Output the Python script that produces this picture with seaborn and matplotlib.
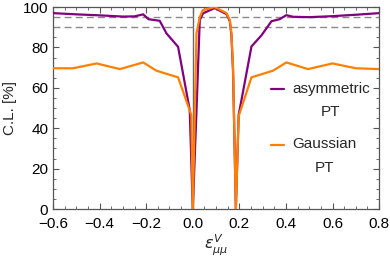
import pandas as pd
import seaborn as sns
import matplotlib.pyplot as plt
from matplotlib.ticker import MultipleLocator

# asymmetric PT curve
x_asym = [-0.6, -0.5, -0.4, -0.3, -0.25, -0.213, -0.19, -0.142, -0.113, -0.063,
          -0.013, 0.0, 0.016, 0.03, 0.044, 0.094, 0.145, 0.159, 0.166, 0.173,
          0.185, 0.197, 0.252, 0.295, 0.338, 0.373, 0.402, 0.43, 0.5, 0.6, 0.7, 0.8]
y_asym = [97.0, 96.4, 95.9, 95.3, 95.4, 96.4, 94.0, 93.2, 87.0, 80.3,
          49.0, 0.0, 49.0, 93.6, 96.9, 99.5, 96.5, 93.0, 86.0, 68.0,
          0.0, 46.5, 80.5, 86.0, 93.0, 94.0, 96.0, 95.2, 95.0, 95.5, 96.2, 97.0]

# Gaussian PT curve
x_gauss = [-0.6, -0.514, -0.413, -0.313, -0.213, -0.156, -0.063, -0.006, 0.0,
           0.016, 0.03, 0.043, 0.094, 0.145, 0.159, 0.166, 0.173, 0.185, 0.197,
           0.252, 0.344, 0.402, 0.495, 0.6, 0.7, 0.8]
y_gauss = [69.7, 69.7, 72.1, 69.3, 72.6, 68.5, 65.2, 46.5, 0.0,
           87.0, 95.0, 98.5, 100.0, 97.0, 93.6, 87.0, 70.0, 0.0, 46.0,
           65.2, 68.5, 72.6, 69.3, 72.1, 69.7, 69.3]

df = pd.concat([
    pd.DataFrame({'eps': x_asym, 'CL': y_asym, 'model': 'asymmetric\nPT'}),
    pd.DataFrame({'eps': x_gauss, 'CL': y_gauss, 'model': 'Gaussian\nPT'}),
])

sns.set_style("ticks")
plt.rcParams['font.family'] = ['Liberation Sans', 'DejaVu Sans']
plt.rcParams['mathtext.fontset'] = 'dejavusans'

fig = plt.figure(figsize=(3.9, 2.62), dpi=100)
ax = fig.add_axes([0.136, 0.202, 0.836, 0.771])

ax.axvline(0, color='#666666', lw=1.0, zorder=1)
ax.axhline(95, color='#8a8a8a', lw=1.0, ls=(0, (5, 3)), zorder=1)
ax.axhline(90, color='#8a8a8a', lw=1.0, ls=(0, (5, 3)), zorder=1)

sns.lineplot(data=df, x='eps', y='CL', hue='model', estimator=None,
             palette=['#800080', '#ff8000'], lw=1.6, ax=ax, zorder=3)

ax.set_xlim(-0.6, 0.8)
ax.set_ylim(0, 100)
ax.xaxis.set_major_locator(MultipleLocator(0.2))
ax.xaxis.set_minor_locator(MultipleLocator(0.05))
ax.yaxis.set_major_locator(MultipleLocator(20))
ax.yaxis.set_minor_locator(MultipleLocator(5))
ax.tick_params(which='both', direction='in', top=True, right=True,
               colors='#555555', labelcolor='black', labelsize=11)
ax.tick_params(which='major', length=4, width=0.8)
ax.tick_params(which='minor', length=2, width=0.6)
ax.tick_params(axis='x', pad=6)
for s in ax.spines.values():
    s.set_color('#555555')
    s.set_linewidth(0.9)

ax.set_xlabel(r'$\varepsilon^{V}_{\mu\mu}$', fontsize=11.5, labelpad=1)
ax.set_ylabel('C.L. [%]', fontsize=11, labelpad=4)

leg = ax.legend(loc='center left', bbox_to_anchor=(0.625, 0.4), frameon=False,
                fontsize=11, handlelength=0.9, handletextpad=0.5,
                labelspacing=1.2)
for t in leg.get_texts():
    t.set_multialignment('center')
    t.set_linespacing(1.85)
# handles sit next to the first line of each label
for ln in leg.get_lines():
    ln.set_ydata([y + 8.0 for y in ln.get_ydata()])

fig.savefig('out.png', dpi=100)
